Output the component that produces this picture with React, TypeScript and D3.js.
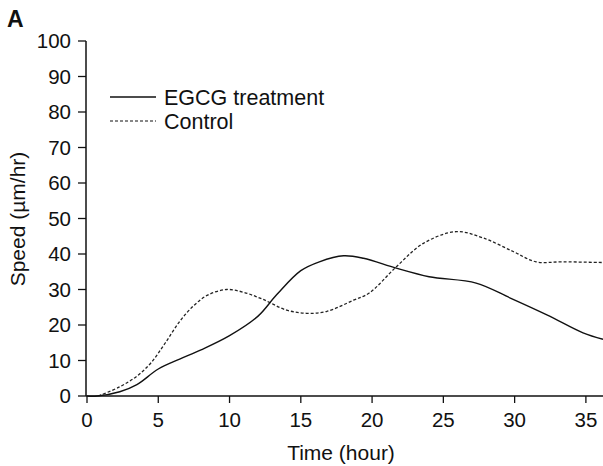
import React from "react";
import * as d3 from "d3";

// values (hours, µm/hr)
const egcgHours = [0, 0.7, 2.3, 3.5, 5, 6.5, 8, 10, 12, 13.3, 15, 16.3, 18, 19.4, 21.7, 24, 27.3, 29.7, 32.3, 34.8, 36.2];
const egcgSpeed = [0, 0, 1.2, 3.2, 7.6, 10.4, 13, 17, 22.5, 28.5, 35.3, 37.8, 39.5, 38.8, 36, 33.6, 31.8, 27.6, 22.8, 17.8, 16];
const controlHours = [0.8, 2.3, 3.5, 4.5, 5.5, 6.5, 7.5, 8.5, 9.8, 11, 12.3, 14, 15.4, 16.8, 18.7, 19.8, 21.7, 23.6, 25.9, 27.8, 29.9, 31.5, 33.4, 36.2];
const controlSpeed = [0, 2.6, 5.6, 9.4, 15, 21, 25.5, 28.5, 30, 29.2, 27.3, 24.2, 23.3, 23.8, 27, 29, 36.4, 43, 46.3, 44.5, 40.7, 37.8, 37.8, 37.6];
const xTicks = [0, 5, 10, 15, 20, 25, 30, 35];
const yTicks = [0, 10, 20, 30, 40, 50, 60, 70, 80, 90, 100];
const legendItems = ["EGCG treatment", "Control"];

const font = "'Liberation Sans', Arial, sans-serif";

export default function App() {
  const width = 603;
  const height = 466;
  const x = d3.scaleLinear().domain([0, 36.2]).range([87, 603]);
  const y = d3.scaleLinear().domain([0, 100]).range([396, 41]);

  const line = d3
    .line<[number, number]>()
    .x((d) => x(d[0]))
    .y((d) => y(d[1]))
    .curve(d3.curveCatmullRom.alpha(0.5));

  const egcg = egcgHours.map((h, i) => [h, egcgSpeed[i]] as [number, number]);
  const control = controlHours.map((h, i) => [h, controlSpeed[i]] as [number, number]);

  return (
    <svg
      width={width}
      height={height}
      style={{ position: "absolute", left: 0, top: 0, background: "#fff" }}
      fontFamily={font}
    >
      <rect width={width} height={height} fill="#fff" />
      <text x={7} y={27} fontSize={23} fontWeight="bold" fill="#111">
        A
      </text>

      {/* y axis */}
      <line x1={x(0) - 1} x2={x(0) - 1} y1={y(100)} y2={y(0)} stroke="#111" strokeWidth={1.5} />
      {yTicks.map((t) => (
        <g key={t}>
          <line x1={x(0) - 9} x2={x(0) - 1} y1={y(t)} y2={y(t)} stroke="#111" strokeWidth={1.3} />
          <text x={71} y={y(t)} dy="0.36em" textAnchor="end" fontSize={20.5} fill="#111">
            {t}
          </text>
        </g>
      ))}

      {/* x axis */}
      <line x1={x(0) - 1} x2={width} y1={y(0)} y2={y(0)} stroke="#111" strokeWidth={1.5} />
      {xTicks.map((t) => (
        <g key={t}>
          <line x1={x(t)} x2={x(t)} y1={y(0)} y2={y(0) + 7} stroke="#111" strokeWidth={1.3} />
          <text x={x(t)} y={427} textAnchor="middle" fontSize={20.5} fill="#111">
            {t}
          </text>
        </g>
      ))}

      <text x={341} y={460} textAnchor="middle" fontSize={21} fill="#111">
        Time (hour)
      </text>
      <text
        transform={`translate(25,${219}) rotate(-90)`}
        textAnchor="middle"
        fontSize={21}
        fill="#111"
      >
        Speed (µm/hr)
      </text>

      {/* series */}
      <path d={line(control) ?? ""} fill="none" stroke="#222" strokeWidth={1.3} strokeDasharray="3,2" />
      <path d={line(egcg) ?? ""} fill="none" stroke="#111" strokeWidth={1.4} />

      {/* legend */}
      {legendItems.map((name, i) => (
        <g key={name} transform={`translate(0,${97 + i * 24})`}>
          <line
            x1={110}
            x2={156}
            y1={0}
            y2={0}
            stroke="#111"
            strokeWidth={i === 0 ? 1.4 : 1.2}
            strokeDasharray={i === 0 ? undefined : "3,2"}
          />
          <text x={164} y={0} dy="0.36em" fontSize={21.5} fill="#111">
            {name}
          </text>
        </g>
      ))}
    </svg>
  );
}
